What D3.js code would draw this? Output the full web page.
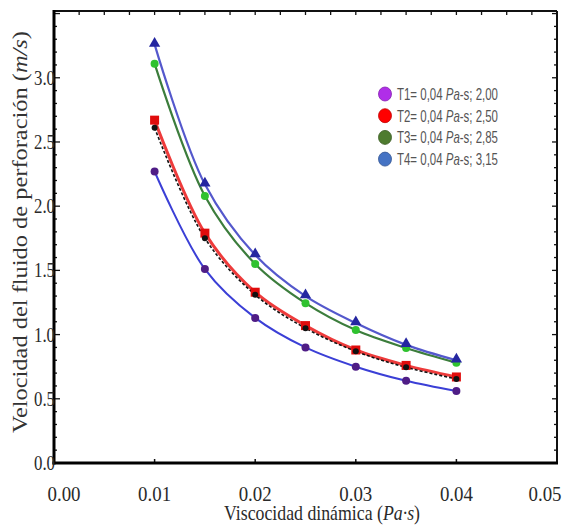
<!DOCTYPE html>
<html>
<head>
<meta charset="utf-8">
<script src="https://cdn.jsdelivr.net/npm/d3@7"></script>
<style>
  body { margin: 0; background: #fff; }
  svg { display: block; }
</style>
</head>
<body>
<script>
// viscosity values (Pa·s)
const viscosity = [0.01, 0.015, 0.02, 0.025, 0.03, 0.035, 0.04];

// fluid velocity (m/s)
const t1Values = [2.27, 1.51, 1.13, 0.90, 0.75, 0.64, 0.56];
const t2Values = [2.67, 1.79, 1.33, 1.07, 0.88, 0.76, 0.67];
const blackValues = [2.61, 1.75, 1.31, 1.05, 0.87, 0.745, 0.655];
const t3Values = [3.11, 2.08, 1.55, 1.245, 1.035, 0.895, 0.78];
const t4Values = [3.26, 2.17, 1.62, 1.30, 1.09, 0.92, 0.80];

const xTicks = [0, 0.01, 0.02, 0.03, 0.04, 0.05];
const yTicks = [0, 0.5, 1.0, 1.5, 2.0, 2.5, 3.0];

const legendLabels = ["T1= 0,04 ", "T2= 0,04 ", "T3= 0,04 ", "T4= 0,04 "];
const legendValues = ["2,00", "2,50", "2,85", "3,15"];
const legendColors = ["#b02ee8", "#ff0000", "#4e7b2f", "#4573c4"];

const width = 564, height = 531;
const plotLeft = 54, plotRight = 557, plotTop = 11, plotBottom = 463;

const svg = d3.select("body").append("svg")
   .attr("width", width)
   .attr("height", height)
   .style("font-family", "'Liberation Serif', 'Times New Roman', serif");

const x = d3.scaleLinear().domain([0, 0.05]).range([plotLeft, plotRight]);
const y = d3.scaleLinear().domain([0, 3.52]).range([plotBottom, plotTop]);

// minor ticks on the frame
const yMinor = d3.range(0, 3.51, 0.1);
const topMinor = d3.range(0, 0.0501, 0.0025);
const isMajor = d => Math.abs(d * 2 - Math.round(d * 2)) < 0.01;

svg.append("g").selectAll("line")
   .data(yMinor)
   .enter().append("line")
   .attr("x1", plotLeft)
   .attr("x2", d => plotLeft + (isMajor(d) ? 6 : 3))
   .attr("y1", d => y(d))
   .attr("y2", d => y(d))
   .style("stroke", "#111")
   .style("stroke-width", 1.3);

svg.append("g").selectAll("line")
   .data(yMinor)
   .enter().append("line")
   .attr("x1", plotRight)
   .attr("x2", d => plotRight - (isMajor(d) ? 5 : 3))
   .attr("y1", d => y(d))
   .attr("y2", d => y(d))
   .style("stroke", "#111")
   .style("stroke-width", 1.3);

svg.append("g").selectAll("line")
   .data(topMinor)
   .enter().append("line")
   .attr("x1", d => x(d))
   .attr("x2", d => x(d))
   .attr("y1", plotTop)
   .attr("y2", plotTop + 4)
   .style("stroke", "#111")
   .style("stroke-width", 1.3);

svg.append("g").selectAll("line")
   .data(xTicks)
   .enter().append("line")
   .attr("x1", d => x(d))
   .attr("x2", d => x(d))
   .attr("y1", plotBottom)
   .attr("y2", plotBottom - 4)
   .style("stroke", "#111")
   .style("stroke-width", 1.5);

// frame: left and bottom are heavier
svg.append("line").attr("x1", plotLeft).attr("x2", plotRight).attr("y1", plotTop).attr("y2", plotTop)
   .style("stroke", "#111").style("stroke-width", 2);
svg.append("line").attr("x1", plotRight).attr("x2", plotRight).attr("y1", plotTop).attr("y2", plotBottom)
   .style("stroke", "#111").style("stroke-width", 2);
svg.append("line").attr("x1", plotLeft).attr("x2", plotLeft).attr("y1", plotTop - 1).attr("y2", plotBottom + 1.5)
   .style("stroke", "#000").style("stroke-width", 3);
svg.append("line").attr("x1", plotLeft - 1.5).attr("x2", plotRight + 1).attr("y1", plotBottom).attr("y2", plotBottom)
   .style("stroke", "#000").style("stroke-width", 3);

// tick labels (glyphs look narrow and tall in the original)
svg.append("g").selectAll("text")
   .data(xTicks)
   .enter().append("text")
   .attr("x", (d, i) => x(d) + (i === 0 ? 10 : i === xTicks.length - 1 ? -12 : 0))
   .attr("y", 501)
   .attr("text-anchor", "middle")
   .attr("textLength", 33)
   .attr("lengthAdjust", "spacingAndGlyphs")
   .style("font-size", "21px")
   .style("fill", "#2a2a2a")
   .text(d => d.toFixed(2));

svg.append("g").selectAll("text")
   .data(yTicks)
   .enter().append("text")
   .attr("x", plotLeft + 1)
   .attr("y", d => y(d) + 7)
   .attr("text-anchor", "end")
   .attr("textLength", 21)
   .attr("lengthAdjust", "spacingAndGlyphs")
   .style("font-size", "20px")
   .style("fill", "#2a2a2a")
   .text(d => d.toFixed(1));

// axis titles
const xTitle = svg.append("text")
   .attr("x", 322)
   .attr("y", 520)
   .attr("text-anchor", "middle")
   .attr("textLength", 196)
   .attr("lengthAdjust", "spacingAndGlyphs")
   .style("font-size", "21px")
   .style("fill", "#2a2a2a");
xTitle.append("tspan").text("Viscocidad dinámica (");
xTitle.append("tspan").style("font-style", "italic").text("Pa·s");
xTitle.append("tspan").text(")");

const yTitle = svg.append("text")
   .attr("transform", "translate(27,232) rotate(-90)")
   .attr("text-anchor", "middle")
   .attr("textLength", 402)
   .attr("lengthAdjust", "spacingAndGlyphs")
   .style("font-size", "22px")
   .style("fill", "#333");
yTitle.append("tspan").text("Velocidad del fluido de perforación (");
yTitle.append("tspan").style("font-style", "italic").text("m/s");
yTitle.append("tspan").text(")");

// curves
const line = d3.line()
   .x((d, i) => x(viscosity[i]))
   .y(d => y(d))
   .curve(d3.curveCatmullRom.alpha(0.5));

function drawCurve(values, color, w, dash) {
   svg.append("path")
      .attr("d", line(values))
      .style("fill", "none")
      .style("stroke", color)
      .style("stroke-width", w)
      .style("stroke-dasharray", dash || null);
}

drawCurve(t1Values, "#3b3fd6", 2);
drawCurve(t3Values, "#3c7d3c", 2.2);
drawCurve(t4Values, "#5458cc", 2.2);
drawCurve(t2Values, "#ee3b3b", 3);
drawCurve(blackValues, "#111", 1.6, "3,2");

// markers
svg.append("g").selectAll("circle")
   .data(t1Values)
   .enter().append("circle")
   .attr("cx", (d, i) => x(viscosity[i]))
   .attr("cy", d => y(d))
   .attr("r", 4)
   .style("fill", "#4f1d86");

svg.append("g").selectAll("rect")
   .data(t2Values)
   .enter().append("rect")
   .attr("x", (d, i) => x(viscosity[i]) - 4.5)
   .attr("y", d => y(d) - 4.5)
   .attr("width", 9)
   .attr("height", 9)
   .style("fill", "#e00c0c");

svg.append("g").selectAll("circle")
   .data(blackValues)
   .enter().append("circle")
   .attr("cx", (d, i) => x(viscosity[i]))
   .attr("cy", d => y(d))
   .attr("r", 3)
   .style("fill", "#111");

svg.append("g").selectAll("circle")
   .data(t3Values)
   .enter().append("circle")
   .attr("cx", (d, i) => x(viscosity[i]))
   .attr("cy", d => y(d))
   .attr("r", 4)
   .style("fill", "#2fc22f");

const triangle = d3.symbol().type(d3.symbolTriangle).size(55);
svg.append("g").selectAll("path")
   .data(t4Values)
   .enter().append("path")
   .attr("d", triangle)
   .attr("transform", (d, i) => `translate(${x(viscosity[i])},${y(d) - 1})`)
   .style("fill", "#2426a0");

// legend
const legend = svg.append("g")
   .style("font-family", "'Liberation Sans Narrow', 'Liberation Sans', sans-serif");

legend.selectAll("ellipse")
   .data(legendColors)
   .enter().append("ellipse")
   .attr("cx", 385)
   .attr("cy", (d, i) => 94 + i * 21.7)
   .attr("rx", 6.5)
   .attr("ry", 7)
   .style("fill", d => d)
   .style("stroke", d => d3.color(d).darker(0.8))
   .style("stroke-width", 0.8);

legendLabels.forEach((lab, i) => {
   const t = legend.append("text")
      .attr("x", 397)
      .attr("y", 100 + i * 21.7)
      .attr("textLength", 101)
      .attr("lengthAdjust", "spacingAndGlyphs")
      .style("font-size", "17px")
      .style("fill", "#555");
   t.append("tspan").text(lab);
   t.append("tspan").style("font-style", "italic").text("Pa");
   t.append("tspan").text("-s; " + legendValues[i]);
});
</script>
</body>
</html>
